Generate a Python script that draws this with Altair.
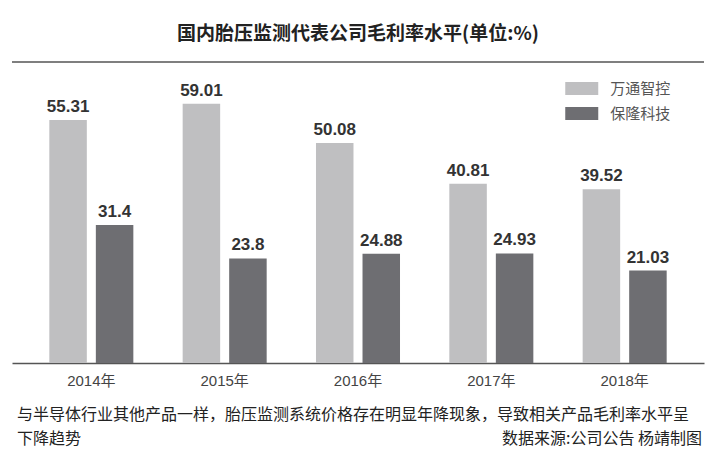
import altair as alt
import pandas as pd

years = ["2014年", "2015年", "2016年", "2017年", "2018年"]
companies = ["万通智控", "保隆科技"]
wantong = [55.31, 59.01, 50.08, 40.81, 39.52]
baolong = [31.4, 23.8, 24.88, 24.93, 21.03]

title_text = "国内胎压监测代表公司毛利率水平(单位:%)"
caption_line1 = "与半导体行业其他产品一样，胎压监测系统价格存在明显年降现象，导致相关产品毛利率水平呈"
caption_line2 = "下降趋势"
source_text = "数据来源:公司公告  杨靖制图"

rows = []
for i, y in enumerate(years):
    rows.append({"year": y, "company": companies[0], "value": wantong[i], "label": str(wantong[i])})
    rows.append({"year": y, "company": companies[1], "value": baolong[i], "label": str(baolong[i])})
df = pd.DataFrame(rows)

W, H = 692, 301
CJK = "Noto Sans CJK SC"
LAT = "Liberation Sans, Noto Sans CJK SC"

x_enc = alt.X("year:N", sort=years,
              scale=alt.Scale(paddingInner=0, paddingOuter=0.095),
              axis=alt.Axis(title=None, ticks=False, labelAngle=0, labelFont=LAT,
                            labelFontSize=15, labelColor="#444", labelPadding=10,
                            domainColor="#555", domainWidth=1.5, grid=False))
xo_enc = alt.XOffset("company:N", sort=companies,
                     scale=alt.Scale(paddingInner=0.194, paddingOuter=0.53))
y_enc = alt.Y("value:Q", scale=alt.Scale(domain=[0, 68.5], nice=False), axis=None)

base = alt.Chart(df)

bars = base.mark_bar().encode(
    x=x_enc, xOffset=xo_enc, y=y_enc,
    color=alt.Color("company:N", sort=companies,
                    scale=alt.Scale(domain=companies, range=["#bfbfc1", "#6e6e72"]),
                    legend=alt.Legend(title=None, orient="none", legendX=561.25, legendY=18,
                                      symbolType="M-2,-0.788H2V0.788H-2Z", symbolSize=272.25,
                                      symbolStrokeWidth=0, symbolOpacity=1,
                                      labelFont=CJK, labelFontSize=15, labelColor="#555",
                                      labelOffset=20, rowPadding=8, padding=0))
)

labels = base.mark_text(baseline="bottom", dy=-4, font=LAT, fontSize=17,
                        fontWeight="bold", color="#333").encode(
    x=x_enc, xOffset=xo_enc, y=y_enc, text="label:N")

top_line = alt.Chart(pd.DataFrame({"a": [0]})).mark_rule(color="#555", strokeWidth=1.5).encode(
    x=alt.value(0), x2=alt.value(W), y=alt.value(0))

cap1 = alt.Chart(pd.DataFrame({"t": [caption_line1]})).mark_text(
    align="left", baseline="middle", font=CJK, fontSize=16, color="#222").encode(
    x=alt.value(5), y=alt.value(353), text="t:N")
cap2 = alt.Chart(pd.DataFrame({"t": [caption_line2]})).mark_text(
    align="left", baseline="middle", font=CJK, fontSize=16, color="#222").encode(
    x=alt.value(5), y=alt.value(376.5), text="t:N")
src = alt.Chart(pd.DataFrame({"t": [source_text]})).mark_text(
    align="right", baseline="middle", font=CJK, fontSize=16, color="#222").encode(
    x=alt.value(690), y=alt.value(376.5), text="t:N")

chart = alt.layer(bars, labels, top_line, cap1, cap2, src).properties(
    width=W, height=H,
    title=alt.TitleParams(title_text, font=CJK, fontSize=19, fontWeight="bold",
                          color="#222", anchor="middle", offset=17),
    autosize=alt.AutoSizeParams(type="none"),
    padding={"left": 4, "right": 4, "top": 54, "bottom": 90},
).configure_view(stroke=None)

chart.save("out.html", embed_options={"renderer": "svg", "actions": False})
